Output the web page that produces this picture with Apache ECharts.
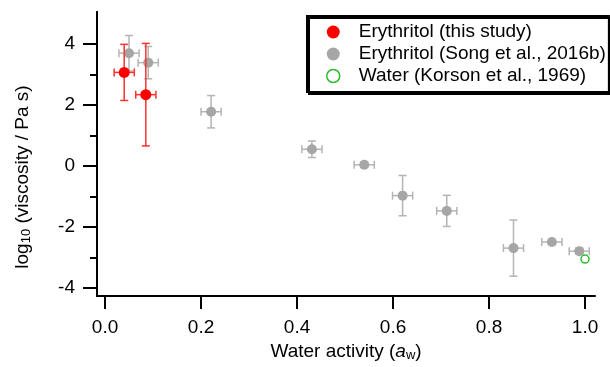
<!DOCTYPE html>
<html>
<head>
<meta charset="utf-8">
<script src="https://cdn.jsdelivr.net/npm/echarts@6/dist/echarts.min.js"></script>
<style>
  html, body { margin: 0; padding: 0; background: #fff; }
  #chart { width: 610px; height: 367px; }
</style>
</head>
<body>
<div id="chart"></div>
<script>
// Erythritol (this study)
const thisStudyX = [0.040, 0.085]
const thisStudyY = [3.07, 2.34]
const thisStudyXErr = [0.021, 0.021]
const thisStudyYErr = [0.92, 1.68]

// Erythritol (Song et al., 2016b)
const songX = [0.050, 0.090, 0.221, 0.431, 0.540, 0.620, 0.712, 0.851, 0.931, 0.988]
const songY = [3.70, 3.39, 1.78, 0.55, 0.04, -0.97, -1.47, -2.69, -2.49, -2.79]
const songXErr = [0.021, 0.021, 0.021, 0.021, 0.021, 0.021, 0.021, 0.021, 0.021, 0.021]
const songYErr = [0.58, 0.53, 0.53, 0.27, 0.08, 0.66, 0.51, 0.92, 0.08, 0.1]

// Water (Korson et al., 1969)
const waterX = [1.0]
const waterY = [-3.05]

const xTicks = [0, 0.2, 0.4, 0.6, 0.8, 1.0]
const yTicks = [-4, -2, 0, 2, 4]
const yMinorTicks = [-3, -1, 1, 3]

const FONT = '"Liberation Sans", Arial, sans-serif'

const zip = (xs, ys, exs, eys) => xs.map((x, i) => eys ? [x, ys[i], exs[i], eys[i]] : [x, ys[i]])

function errorBars(color) {
  return function (params, api) {
    const x = api.value(0), y = api.value(1), ex = api.value(2), ey = api.value(3)
    const top = api.coord([x, y + ey])
    const bot = api.coord([x, y - ey])
    const left = api.coord([x - ex, y])
    const right = api.coord([x + ex, y])
    const cap = 4
    const style = { stroke: color, lineWidth: 1.5 }
    const line = (x1, y1, x2, y2) => ({ type: 'line', shape: { x1, y1, x2, y2 }, style })
    return {
      type: 'group',
      children: [
        line(top[0], top[1], bot[0], bot[1]),
        line(top[0] - cap, top[1], top[0] + cap, top[1]),
        line(bot[0] - cap, bot[1], bot[0] + cap, bot[1]),
        line(left[0], left[1], right[0], right[1]),
        line(left[0], left[1] - cap, left[0], left[1] + cap),
        line(right[0], right[1] - cap, right[0], right[1] + cap)
      ]
    }
  }
}

const chart = echarts.init(document.getElementById('chart'))

chart.setOption({
  animation: false,
  textStyle: { fontFamily: FONT },
  grid: {
    left: 97,
    right: 15,
    top: 12,
    bottom: 71,
    containLabel: false,
    outerBoundsMode: 'none'
  },
  legend: {
    orient: 'vertical',
    left: 307,
    top: 16,
    padding: [6, 3, 6, 19],
    itemGap: 2,
    itemWidth: 13,
    itemHeight: 13,
    backgroundColor: '#fff',
    borderColor: '#000',
    borderWidth: 2,
    borderRadius: 0,
    shadowColor: '#000',
    shadowBlur: 0,
    shadowOffsetX: 2,
    shadowOffsetY: 2,
    textStyle: { fontSize: 19, color: '#000', lineHeight: 20, padding: [0, 0, 0, 14] },
    data: [
      { name: 'Erythritol (this study)', icon: 'circle', itemStyle: { color: '#ff0000' } },
      { name: 'Erythritol (Song et al., 2016b)', icon: 'circle', itemStyle: { color: '#a6a6a6' } },
      { name: 'Water (Korson et al., 1969)', icon: 'circle',
        itemStyle: { color: '#fff', borderColor: '#2bbf2b', borderWidth: 1.5 } }
    ]
  },
  xAxis: {
    type: 'value',
    min: -0.0167,
    max: 1.0208,
    name: 'Water activity ({i|a}{sub|w})',
    nameLocation: 'middle',
    nameGap: 41,
    nameTextStyle: {
      fontSize: 19,
      color: '#000',
      rich: {
        i: { fontSize: 19, fontStyle: 'italic', color: '#000' },
        sub: { fontSize: 13, color: '#000', verticalAlign: 'bottom', padding: [8, 0, 0, 0] }
      }
    },
    axisLine: { onZero: false, lineStyle: { color: '#000', width: 2 } },
    axisTick: { show: true, length: 13, customValues: xTicks, lineStyle: { color: '#000', width: 2 } },
    axisLabel: {
      customValues: xTicks,
      margin: 22,
      fontSize: 19,
      color: '#000',
      formatter: v => v.toFixed(1)
    },
    splitLine: { show: false }
  },
  yAxis: [
    {
      type: 'value',
      min: -4.26,
      max: 5.05,
      name: 'log{sub|10} (viscosity / Pa s)',
      nameLocation: 'middle',
      nameGap: 64,
      nameTextStyle: {
        fontSize: 19,
        color: '#000',
        padding: [0, 46, 0, 0],
        rich: {
          sub: { fontSize: 13, color: '#000', verticalAlign: 'bottom', padding: [8, 0, 0, 0] }
        }
      },
      axisLine: { onZero: false, lineStyle: { color: '#000', width: 2 } },
      axisTick: { show: true, length: 14, customValues: yTicks, lineStyle: { color: '#000', width: 2 } },
      axisLabel: { customValues: yTicks, margin: 22, fontSize: 19, color: '#000' },
      splitLine: { show: false }
    },
    {
      type: 'value',
      position: 'left',
      offset: 0,
      min: -4.26,
      max: 5.05,
      axisLine: { show: true, onZero: false, lineStyle: { color: '#000', width: 2 } },
      axisTick: { show: true, inside: false, length: 7, customValues: yMinorTicks, lineStyle: { color: '#000', width: 2 } },
      axisLabel: { show: false },
      splitLine: { show: false }
    }
  ],
  series: [
    {
      type: 'custom',
      name: 'songErr',
      renderItem: errorBars('#b4b4b4'),
      data: zip(songX, songY, songXErr, songYErr),
      encode: { x: 0, y: 1 },
      z: 1
    },
    {
      type: 'scatter',
      name: 'Erythritol (Song et al., 2016b)',
      data: zip(songX, songY),
      symbol: 'circle',
      symbolSize: 10,
      itemStyle: { color: '#a6a6a6', opacity: 1 },
      z: 2
    },
    {
      type: 'custom',
      name: 'thisErr',
      renderItem: errorBars('#ff3030'),
      data: zip(thisStudyX, thisStudyY, thisStudyXErr, thisStudyYErr),
      encode: { x: 0, y: 1 },
      z: 3
    },
    {
      type: 'scatter',
      name: 'Erythritol (this study)',
      data: zip(thisStudyX, thisStudyY),
      symbol: 'circle',
      symbolSize: 11,
      itemStyle: { color: '#ff0000', opacity: 1 },
      z: 4
    },
    {
      type: 'scatter',
      name: 'Water (Korson et al., 1969)',
      data: zip(waterX, waterY),
      symbol: 'circle',
      symbolSize: 8,
      itemStyle: { color: 'rgba(255,255,255,0)', borderColor: '#2bbf2b', borderWidth: 1.5, opacity: 1 },
      z: 5
    }
  ]
})
</script>
</body>
</html>
